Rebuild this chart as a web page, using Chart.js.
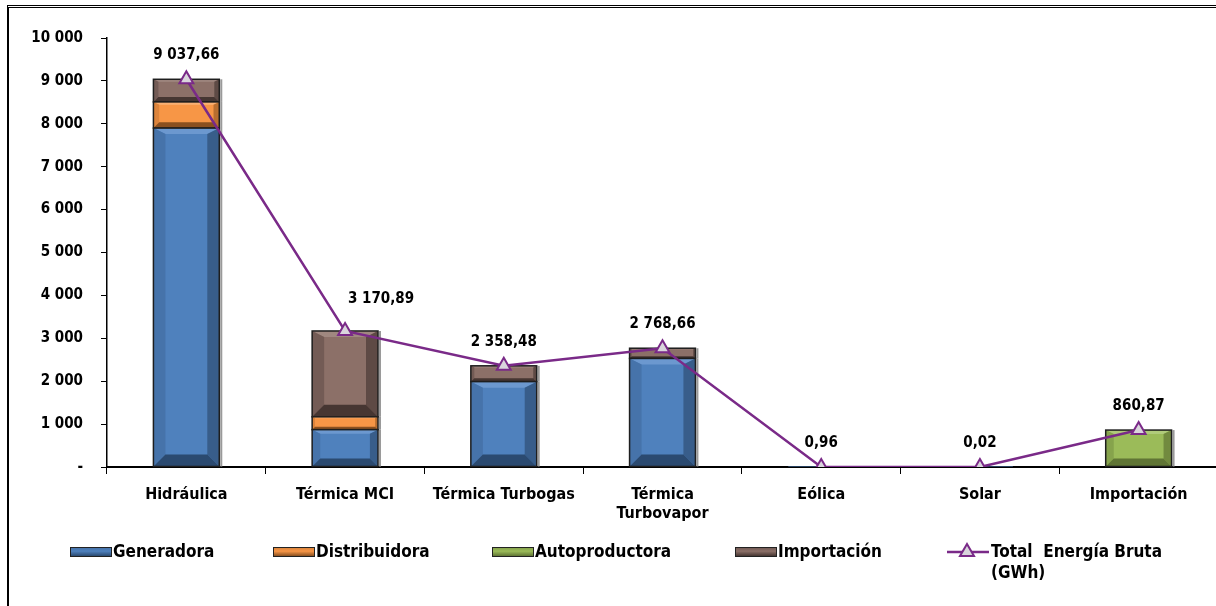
<!DOCTYPE html>
<html><head><meta charset="utf-8">
<script src="https://cdn.jsdelivr.net/npm/chart.js@4/dist/chart.umd.min.js"></script>
<style>
html,body{margin:0;padding:0;background:#fff;}
#wrap{position:relative;width:1216px;height:606px;overflow:hidden;font-family:"DejaVu Sans Condensed","DejaVu Sans",sans-serif;font-weight:bold;color:#000;}
#frame{position:absolute;left:7px;top:5px;width:1230px;height:620px;border-top:3px double #000;border-left:2px solid #000;box-sizing:border-box;}
canvas{position:absolute;left:0;top:0;}
.lt{position:absolute;font-size:17px;line-height:21px;white-space:nowrap;}
.sw{position:absolute;width:40px;height:8px;border:1px solid #222;}
</style>
</head><body>
<div id="wrap">
<canvas id="c" width="1228" height="606"></canvas>
<div id="frame"></div>
<div id="legend"></div>
</div>
<script>
const categories = ["Hidráulica", "Térmica MCI", "Térmica Turbogas", ["Térmica", "Turbovapor"], "Eólica", "Solar", "Importación"];
const seriesNames = ["Generadora", "Distribuidora", "Autoproductora", "Importación"];
const generadora     = [7900, 870, 1990, 2530, 0.96, 0.02, null];
const distribuidora  = [610, 300, null, null, null, null, null];
const autoproductora = [null, null, null, null, null, null, 860.87];
const importacion    = [527.66, 2000.89, 368.48, 238.66, null, null, null];
const totalName = "Total  Energía Bruta (GWh)";
const totalBruta = [9037.66, 3170.89, 2358.48, 2768.66, 0.96, 0.02, 860.87];
const yTicks = [0, 1000, 2000, 3000, 4000, 5000, 6000, 7000, 8000, 9000, 10000];

const palettes = [
  {face:'#4F81BD', top:'#6C98CF', left:'#4673AA', right:'#385D8A', bottom:'#2B4A70'},
  {face:'#F79646', top:'#F9B074', left:'#DC843C', right:'#B86E30', bottom:'#8A5020'},
  {face:'#9BBB59', top:'#B0CB7A', left:'#86A34C', right:'#728A3F', bottom:'#607535'},
  {face:'#8C7068', top:'#A08880', left:'#735B55', right:'#5E4A45', bottom:'#463632'}
];
const lineColor = '#7A2A88';

function fmt(v, dec) {
  const s = dec ? v.toFixed(dec) : String(Math.round(v));
  let [i, d] = s.split('.');
  i = i.replace(/\B(?=(\d{3})+(?!\d))/g, ' ');
  return d ? i + ',' + d : i;
}

const bevelPlugin = {
  id: 'bevel',
  afterDatasetDraw(chart, args) {
    const meta = args.meta;
    if (meta.type !== 'bar') return;
    const p = palettes[args.index];
    const ctx = chart.ctx;
    ctx.save();
    meta.data.forEach((el, i) => {
      const raw = chart.data.datasets[args.index].data[i];
      if (raw == null) return;
      const {x, y, base, width} = el.getProps(['x', 'y', 'base', 'width'], true);
      const l = x - width / 2, r = x + width / 2;
      const t = Math.min(y, base), bt = Math.max(y, base);
      const h = bt - t;
      if (h < 1) return;
      const b = Math.min(12, h * 0.22, width * 0.2);
      const bt2 = b * 0.5;
      const poly = (pts, c) => { ctx.beginPath(); ctx.moveTo(pts[0][0], pts[0][1]); for (let k = 1; k < pts.length; k++) ctx.lineTo(pts[k][0], pts[k][1]); ctx.closePath(); ctx.fillStyle = c; ctx.fill(); };
      poly([[l, t], [r, t], [r - b, t + bt2], [l + b, t + bt2]], p.top);
      poly([[l, t], [l + b, t + bt2], [l + b, bt - b], [l, bt]], p.left);
      poly([[r, t], [r - b, t + bt2], [r - b, bt - b], [r, bt]], p.right);
      poly([[l, bt], [l + b, bt - b], [r - b, bt - b], [r, bt]], p.bottom);
      ctx.strokeStyle = '#9a9a9a';
      ctx.lineWidth = 2;
      ctx.beginPath(); ctx.moveTo(r + 2, t); ctx.lineTo(r + 2, bt); ctx.stroke();
      ctx.strokeStyle = '#1e1e1e';
      ctx.lineWidth = 1.5;
      ctx.strokeRect(l, t, width, h);
    });
    ctx.restore();
  }
};

const labelPlugin = {
  id: 'vlabels',
  afterDatasetsDraw(chart) {
    const idx = chart.data.datasets.findIndex(d => d.type === 'line');
    const meta = chart.getDatasetMeta(idx);
    const ctx = chart.ctx;
    ctx.save();
    ctx.font = 'bold 15px "DejaVu Sans Condensed", "DejaVu Sans", sans-serif';
    ctx.fillStyle = '#000';
    ctx.textAlign = 'center';
    ctx.textBaseline = 'middle';
    meta.data.forEach((pt, i) => {
      const dx = i === 1 ? 36 : 0;
      const dy = i === 1 ? 32 : 24;
      ctx.fillText(fmt(totalBruta[i], 2), pt.x + dx, pt.y - dy);
    });
    ctx.restore();
  }
};

const barData = [generadora, distribuidora, autoproductora, importacion];
const datasets = barData.map((arr, k) => ({
  type: 'bar', label: seriesNames[k], data: arr, backgroundColor: palettes[k].face,
  borderWidth: 0, stack: 'bars', order: 1,
  barPercentage: 0.415, categoryPercentage: 1
}));
datasets.push({
  type: 'line', label: totalName, data: totalBruta, stack: 'line', order: 0,
  borderColor: lineColor, borderWidth: 2.5, tension: 0,
  pointStyle: 'triangle', pointRadius: 8, pointBackgroundColor: '#D9D5DC',
  pointBorderColor: lineColor, pointBorderWidth: 2
});

const fontFam = '"DejaVu Sans Condensed", "DejaVu Sans", sans-serif';
new Chart(document.getElementById('c'), {
  data: {labels: categories, datasets},
  options: {
    responsive: false, animation: false, devicePixelRatio: 1,
    layout: {padding: {top: 38, right: 0, bottom: 0, left: 0}},
    plugins: {legend: {display: false}, tooltip: {enabled: false}},
    scales: {
      x: {
        stacked: true,
        grid: {display: true, offset: true, drawOnChartArea: false, tickLength: 7, color: '#000', lineWidth: 1},
        border: {display: true, color: '#000', width: 2},
        ticks: {color: '#000', font: {family: fontFam, size: 16, weight: 'bold'}, padding: 11, maxRotation: 0, autoSkip: false},
        afterFit(s) { s.height = 139; }
      },
      y: {
        stacked: true, min: 0, max: 10000,
        afterBuildTicks(s) { s.ticks = yTicks.map(v => ({value: v})); },
        grid: {display: true, drawOnChartArea: false, tickLength: 6, color: '#000', lineWidth: 1},
        border: {display: true, color: '#000', width: 1.5},
        ticks: {color: '#000', font: {family: fontFam, size: 15, weight: 'bold'}, padding: 18,
          callback: v => v === 0 ? '-' : fmt(v)},
        afterFit(s) { s.width = 107; }
      }
    }
  },
  plugins: [bevelPlugin, labelPlugin]
});

// HTML legend
const leg = document.getElementById('legend');
const swLeft = [70, 273, 492, 735];
seriesNames.forEach((n, k) => {
  const sw = document.createElement('div');
  sw.className = 'sw';
  sw.style.left = swLeft[k] + 'px';
  sw.style.top = '547px';
  sw.style.background = `linear-gradient(${palettes[k].left}, ${palettes[k].face} 40%, ${palettes[k].bottom})`;
  leg.appendChild(sw);
  const t = document.createElement('div');
  t.className = 'lt';
  t.style.left = (swLeft[k] + 43) + 'px';
  t.style.top = '541px';
  t.textContent = n;
  leg.appendChild(t);
});
const svgNS = 'http://www.w3.org/2000/svg';
const svg = document.createElementNS(svgNS, 'svg');
svg.setAttribute('width', '44'); svg.setAttribute('height', '20');
svg.style.position = 'absolute'; svg.style.left = '946px'; svg.style.top = '542px';
svg.innerHTML = `<line x1="1" y1="10" x2="43" y2="10" stroke="${lineColor}" stroke-width="2.5"/>
<polygon points="21,2 28,14 14,14" fill="#D9D5DC" stroke="${lineColor}" stroke-width="2"/>`;
leg.appendChild(svg);
const tt = document.createElement('div');
tt.className = 'lt';
tt.style.left = '991px'; tt.style.top = '541px';
tt.style.whiteSpace = 'pre';
tt.textContent = "Total  Energía Bruta\n(GWh)";
leg.appendChild(tt);
</script>
</body></html>
